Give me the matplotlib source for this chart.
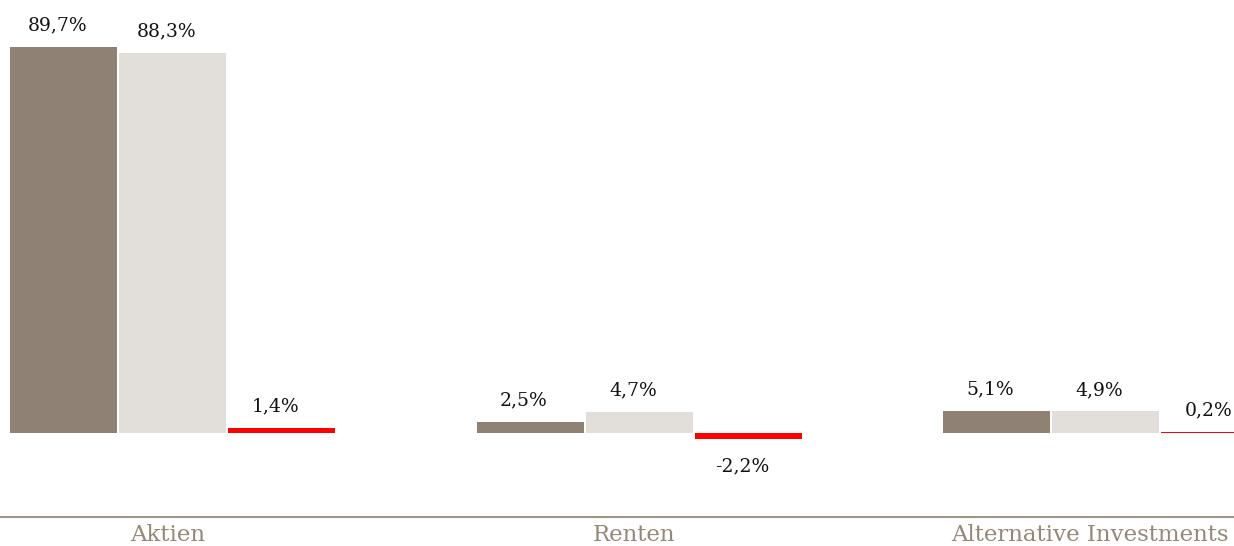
import matplotlib
matplotlib.use("Agg")
import matplotlib.pyplot as plt
import matplotlib.transforms as mtransforms
import numpy as np

categories = ["Aktien", "Renten", "Alternative Investments"]
series_a = [89.7, 2.5, 5.1]      # brown
series_b = [88.3, 4.7, 4.9]      # light grey
series_diff = [1.4, -2.2, 0.2]   # red (difference, secondary scale)
labels_a = ["89,7%", "2,5%", "5,1%"]
labels_b = ["88,3%", "4,7%", "4,9%"]
labels_diff = ["1,4%", "-2,2%", "0,2%"]

brown = "#8f8275"
grey = "#e2dfdb"
red = "#ff0000"
axis_col = "#a0968a"
cat_col = "#968878"
font = "DejaVu Serif"

fig = plt.figure(figsize=(12.34, 5.46), dpi=100)
ax = fig.add_axes([0, 29 / 546, 1, 517 / 546])
ax2 = ax.twinx()

x = np.arange(len(categories))
pitch = 109 / 466.5
width = 107 / 466.5

def draw(a, offset, vals, labs, color, neg_off=-13):
    bars = a.bar(x + offset, vals, width=width, color=color, edgecolor="none")
    for b, v, l in zip(bars, vals, labs):
        cx = b.get_x() + b.get_width() / 2
        if v >= 0:
            a.annotate(l, (cx, v), xytext=(-4.5, 9), textcoords="offset points",
                       ha="center", va="bottom", fontsize=13.5, family=font, color="#111111")
        else:
            a.annotate(l, (cx, v), xytext=(-4.5, neg_off), textcoords="offset points",
                       ha="center", va="top", fontsize=13.5, family=font, color="#111111")

draw(ax, -pitch, series_a, labels_a, brown)
draw(ax, 0, series_b, labels_b, grey)
draw(ax2, pitch, series_diff, labels_diff, red)

xl = (-172.5 / 466.5, (1234 - 172.5) / 466.5)
ax.set_xlim(*xl)
ax2.set_xlim(*xl)
ax.set_ylim(-(517 - 432.5) / 4.3, 432.5 / 4.3)
ax2.set_ylim(-(517 - 432.5) / 3.0, 432.5 / 3.0)

for a in (ax, ax2):
    for s in ["top", "left", "right"]:
        a.spines[s].set_visible(False)
    a.set_yticks([])
ax2.spines["bottom"].set_visible(False)
ax.spines["bottom"].set_color(axis_col)
ax.spines["bottom"].set_linewidth(1.5)
ax.set_xticks(x - 0.01)
ax.set_xticklabels(categories, family=font, fontsize=16.5, color=cat_col)
ax.tick_params(axis="x", length=0, pad=5)

lab = ax.get_xticklabels()[-1]
lab.set_horizontalalignment("right")
lab.set_transform(lab.get_transform() + mtransforms.ScaledTranslation(1228 / 100 - (1105 - 4.7) / 100, 0, fig.dpi_scale_trans))

fig.savefig("out.png", dpi=100)
